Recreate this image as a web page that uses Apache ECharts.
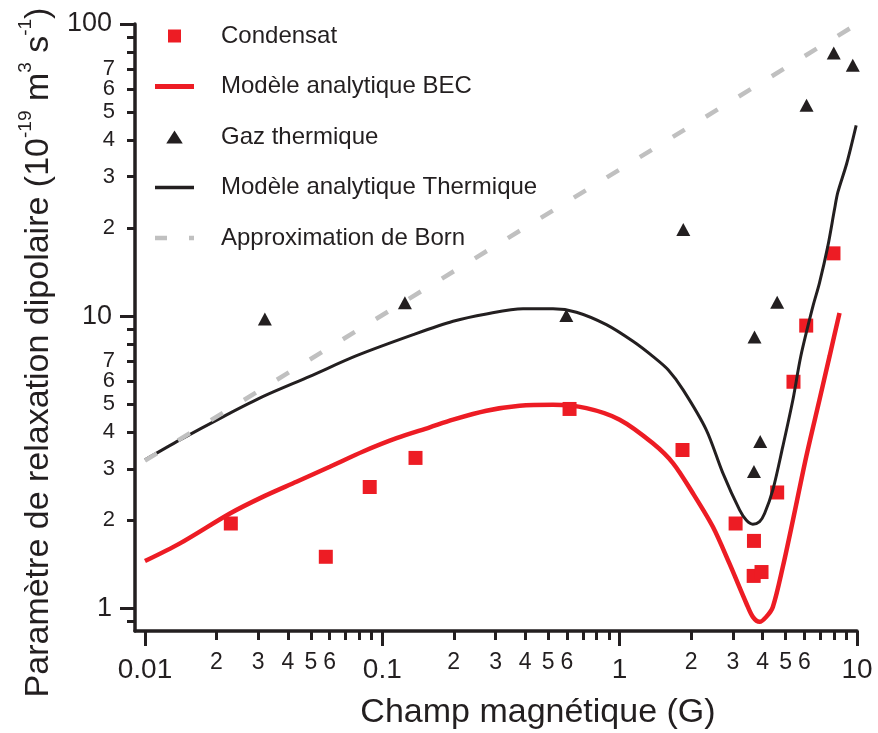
<!DOCTYPE html>
<html>
<head>
<meta charset="utf-8">
<script src="https://cdn.jsdelivr.net/npm/echarts@6.0.0/dist/echarts.min.js"></script>
<style>
  html, body { margin: 0; padding: 0; background: #fff; }
  #chart { width: 878px; height: 733px; }
</style>
</head>
<body>
<div id="chart"></div>
<script>
// ---- données ----
// Condensat (carrés rouges)
var condB = [0.0230, 0.0578, 0.0885, 0.138, 0.615, 1.84, 3.08, 3.68, 3.67, 3.96, 4.61, 5.40, 6.11, 7.96];
var condV = [1.95, 1.50, 2.60, 3.27, 4.81, 3.48, 1.95, 1.70, 1.29, 1.33, 2.49, 5.96, 9.28, 16.4];

// Gaz thermique (triangles noirs)
var gazB = [0.032, 0.1245, 0.596, 1.854, 3.70, 4.61, 3.91, 3.68, 6.13, 7.98, 9.60];
var gazV = [9.78, 11.1, 10.04, 19.8, 8.48, 11.15, 3.72, 2.94, 52.7, 79.5, 72.3];

// Modèle analytique BEC (courbe rouge)
var becB = [0.01, 0.01404, 0.0228, 0.0315, 0.0435, 0.0601, 0.083, 0.1148, 0.1585, 0.1987, 0.2746, 0.379, 0.524,
            0.724, 1.0, 1.38, 1.677, 2.035, 2.47, 2.90, 3.42, 3.64, 3.887, 4.146, 4.42, 4.87, 5.37, 6.11, 6.95, 7.66, 8.44];
var becV = [1.45, 1.667, 2.11, 2.41, 2.71, 3.05, 3.44, 3.82, 4.16, 4.42, 4.74, 4.93, 4.97,
            4.84, 4.42, 3.67, 3.14, 2.475, 1.90, 1.423, 1.038, 0.934, 0.898, 0.934, 1.01, 1.386, 2.00, 3.30, 5.17, 7.28, 10.25];

// Modèle analytique Thermique (courbe noire)
var thB = [0.01, 0.01404, 0.0214, 0.0315, 0.0495, 0.0779, 0.135, 0.1987, 0.2746, 0.3917, 0.5238, 0.6574, 0.879,
           1.138, 1.38, 1.60, 1.848, 2.317, 2.722, 3.20, 3.42, 3.64, 3.887, 4.08, 4.42, 4.87, 5.37, 5.80, 6.52, 6.95,
           7.54, 8.04, 8.30, 9.05, 9.92];
var thV = [3.22, 3.77, 4.53, 5.31, 6.22, 7.32, 8.64, 9.60, 10.17, 10.59, 10.59, 10.31, 9.35,
           8.20, 7.28, 6.55, 5.60, 4.08, 2.90, 2.17, 2.00, 1.94, 1.98, 2.11, 2.54, 3.58, 5.17, 7.3, 10.8, 13.0,
           17.4, 23.2, 26.5, 33.3, 45.0];

// Approximation de Born (tirets gris)
var bornB = [0.01, 10];
var bornV = [3.2, 100];

// graduations
var xMajor = [0.01, 0.1, 1, 10];
var xMinor = [0.02, 0.03, 0.04, 0.05, 0.06, 0.07, 0.08, 0.09,
              0.2, 0.3, 0.4, 0.5, 0.6, 0.7, 0.8, 0.9,
              2, 3, 4, 5, 6, 7, 8, 9];
var xMinorLabels = [0.02, 0.03, 0.04, 0.05, 0.06, 0.2, 0.3, 0.4, 0.5, 0.6, 2, 3, 4, 5, 6];
var yMajor = [1, 10, 100];
var yMinor = [0.9, 2, 3, 4, 5, 6, 7, 8, 9, 20, 30, 40, 50, 60, 70, 80, 90];
var yMinorLabels = [2, 3, 4, 5, 6, 7, 20, 30, 40, 50, 60];
var yMinorLabelsTop = [70];

var xLogMin = -2.042, xLogMax = 1;
var yLogMin = -0.078, yLogMax = 2;

var FONT = '"Liberation Sans", Arial, Helvetica, sans-serif';
var INK = '#231f20';
var RED = '#ed1c24';
var GREY = '#c0c0c0';

function pairs(xs, ys) {
  return xs.map(function (x, i) { return [x, ys[i]]; });
}
function logs(arr) {
  return arr.map(function (v) { return Math.log10(v); });
}
function fmtMajor(v) {
  return String(Number(Math.pow(10, Math.round(v)).toPrecision(1)));
}
function fmtMinor(v) {
  var d = Math.floor(v + 1e-9);
  return String(Math.round(Math.pow(10, v - d)));
}

var myChart = echarts.init(document.getElementById('chart'), null, { renderer: 'canvas' });

var option = {
  animation: false,
  backgroundColor: '#fff',
  textStyle: { fontFamily: FONT, color: INK },
  grid: { left: 135, right: 21, top: 24, bottom: 102, outerBoundsMode: 'none' },
  legend: {
    orient: 'vertical',
    left: 155,
    top: 24,
    padding: 0,
    itemWidth: 39,
    itemHeight: 13,
    itemGap: 26.5,
    selectedMode: false,
    symbolKeepAspect: true,
    itemStyle: { borderWidth: 0 },
    textStyle: { fontSize: 24, color: INK, fontFamily: FONT, padding: [0, 0, 0, 22] },
    data: [
      { name: 'Condensat', icon: 'path://M0,0L1,0L1,1L0,1Z' },
      { name: 'Modèle analytique BEC', icon: 'path://M0,0L39,0L39,5L0,5Z' },
      { name: 'Gaz thermique', icon: 'path://M7,0L14,11L0,11Z' },
      { name: 'Modèle analytique Thermique', icon: 'path://M0,0L39,0L39,3.5L0,3.5Z' },
      { name: 'Approximation de Born', icon: 'path://M0,0L12,0L12,4.5L0,4.5Z M34,0L39,0L39,4.5L34,4.5Z' }
    ]
  },
  xAxis: [
    // axe log qui porte les données
    { type: 'log', logBase: 10, min: Math.pow(10, xLogMin), max: Math.pow(10, xLogMax), show: false },
    // graduations principales
    {
      type: 'value', min: xLogMin, max: xLogMax, position: 'bottom',
      name: 'Champ magnétique (G)',
      nameLocation: 'middle',
      nameGap: 65,
      nameTextStyle: { fontSize: 34, color: INK, fontFamily: FONT, padding: [0, 0, 0, 84] },
      axisLine: { show: true, onZero: false, lineStyle: { color: INK, width: 3.5 } },
      axisTick: { show: true, customValues: logs(xMajor), length: 15, lineStyle: { color: INK, width: 3 } },
      axisLabel: { customValues: logs(xMajor), formatter: fmtMajor, fontSize: 28, margin: 25, color: INK, fontFamily: FONT,
                   showMinLabel: true, showMaxLabel: true },
      splitLine: { show: false }
    },
    // graduations secondaires
    {
      type: 'value', min: xLogMin, max: xLogMax, position: 'bottom',
      axisLine: { show: false, onZero: false },
      axisTick: { show: true, customValues: logs(xMinor), length: 9, lineStyle: { color: INK, width: 3 } },
      axisLabel: { customValues: logs(xMinorLabels), formatter: fmtMinor, fontSize: 23, margin: 20, color: INK, fontFamily: FONT,
                   showMinLabel: true, showMaxLabel: true, hideOverlap: false },
      splitLine: { show: false }
    }
  ],
  yAxis: [
    { type: 'log', logBase: 10, min: Math.pow(10, yLogMin), max: Math.pow(10, yLogMax), show: false },
    {
      type: 'value', min: yLogMin, max: yLogMax, position: 'left',
      name: '{n|Paramètre de relaxation dipolaire (10}{s|-19}{n| m}{s|3}{n| s}{s|-1}{n|)}',
      nameLocation: 'middle',
      nameGap: 73,
      nameRotate: 90,
      nameTextStyle: {
        color: INK, fontFamily: FONT, fontSize: 34,
        padding: [0, 50, 0, 0],
        rich: {
          n: { fontSize: 34, lineHeight: 46, color: INK, fontFamily: FONT },
          s: { fontSize: 19, lineHeight: 19, verticalAlign: 'top', color: INK, fontFamily: FONT }
        }
      },
      axisLine: { show: true, onZero: false, lineStyle: { color: INK, width: 3.5 } },
      axisTick: { show: true, customValues: logs(yMajor), length: 15, lineStyle: { color: INK, width: 3 } },
      axisLabel: { customValues: logs(yMajor), formatter: fmtMajor, fontSize: 27, margin: 23, color: INK, fontFamily: FONT,
                   showMinLabel: true, showMaxLabel: true },
      splitLine: { show: false }
    },
    {
      type: 'value', min: yLogMin, max: yLogMax, position: 'left',
      axisLine: { show: false, onZero: false },
      axisTick: { show: true, customValues: logs(yMinor), length: 8, lineStyle: { color: INK, width: 3 } },
      axisLabel: { customValues: logs(yMinorLabels), formatter: fmtMinor, fontSize: 22, lineHeight: 15, margin: 20,
                   color: INK, fontFamily: FONT, showMinLabel: true, showMaxLabel: true, hideOverlap: false },
      splitLine: { show: false }
    },
    {
      // le « 7 » du haut sur un axe à part, sinon il masque le « 6 » voisin
      type: 'value', min: yLogMin, max: yLogMax, position: 'left',
      axisLine: { show: false, onZero: false },
      axisTick: { show: false },
      axisLabel: { customValues: logs(yMinorLabelsTop), formatter: fmtMinor, fontSize: 22, lineHeight: 15, margin: 20,
                   color: INK, fontFamily: FONT, showMinLabel: true, showMaxLabel: true },
      splitLine: { show: false }
    }
  ],
  series: [
    {
      name: 'Modèle analytique Thermique',
      type: 'line',
      xAxisIndex: 0, yAxisIndex: 0,
      data: pairs(thB, thV),
      symbol: 'none',
      smooth: 0.3,
      color: INK,
      lineStyle: { color: INK, width: 3 }
    },
    {
      name: 'Modèle analytique BEC',
      type: 'line',
      xAxisIndex: 0, yAxisIndex: 0,
      data: pairs(becB, becV),
      symbol: 'none',
      smooth: 0.3,
      color: RED,
      lineStyle: { color: RED, width: 4.5 }
    },
    {
      name: 'Approximation de Born',
      type: 'line',
      xAxisIndex: 0, yAxisIndex: 0,
      data: pairs(bornB, bornV),
      symbol: 'none',
      color: GREY,
      lineStyle: { color: GREY, width: 4.5, type: [14, 24.7], cap: 'butt' }
    },
    {
      name: 'Condensat',
      type: 'scatter',
      xAxisIndex: 0, yAxisIndex: 0,
      data: pairs(condB, condV),
      symbol: 'rect',
      symbolSize: 14,
      color: RED,
      itemStyle: { color: RED, opacity: 1 }
    },
    {
      name: 'Gaz thermique',
      type: 'scatter',
      xAxisIndex: 0, yAxisIndex: 0,
      data: pairs(gazB, gazV),
      symbol: 'triangle',
      symbolSize: [14, 13],
      color: INK,
      itemStyle: { color: INK, opacity: 1 }
    }
  ]
};

myChart.setOption(option);
</script>
</body>
</html>
